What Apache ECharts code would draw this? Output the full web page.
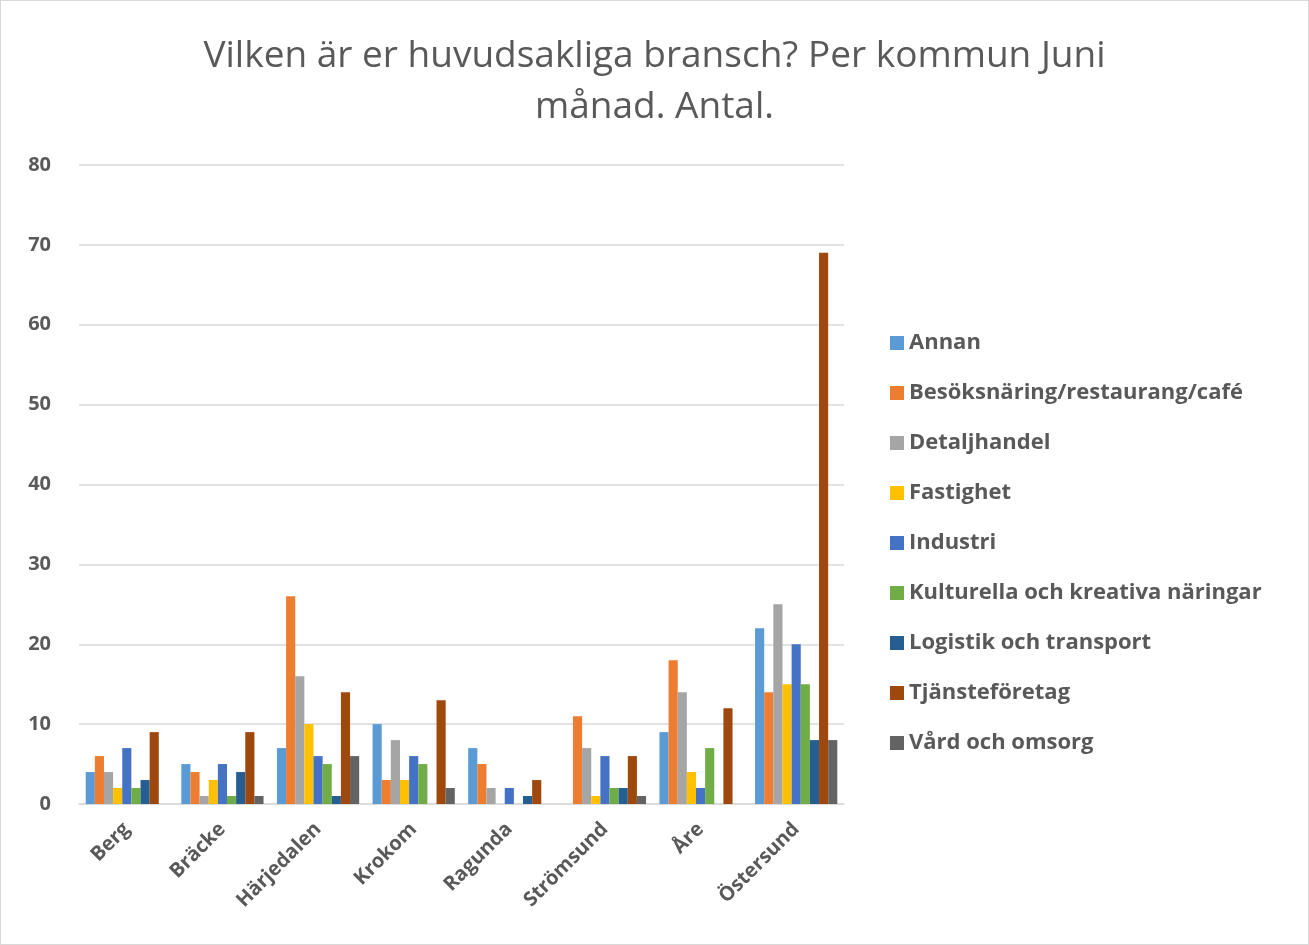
<!DOCTYPE html>
<html>
<head>
    <meta charset="utf-8">
    <title>bransch per kommun</title>
    <style>
        html, body { margin: 0; padding: 0; background: #fff; }
        #main { width: 1309px; height: 945px; box-sizing: border-box; border: 1px solid #d9d9d9; }
    </style>
</head>
<body>
    <div id="main"></div>

    <script src="https://cdn.jsdelivr.net/npm/echarts@6/dist/echarts.min.js"></script>
    <script type="text/javascript">
        var kommuner = ['Berg', 'Bräcke', 'Härjedalen', 'Krokom', 'Ragunda', 'Strömsund', 'Åre', 'Östersund'];
        var yTicks = [0, 10, 20, 30, 40, 50, 60, 70, 80];

        var annan      = [4, 5, 7, 10, 7, 0, 9, 22];
        var besok      = [6, 4, 26, 3, 5, 11, 18, 14];
        var detalj     = [4, 1, 16, 8, 2, 7, 14, 25];
        var fastighet  = [2, 3, 10, 3, 0, 1, 4, 15];
        var industri   = [7, 5, 6, 6, 2, 6, 2, 20];
        var kultur     = [2, 1, 5, 5, 0, 2, 7, 15];
        var logistik   = [3, 4, 1, 0, 1, 2, 0, 8];
        var tjanste    = [9, 9, 14, 13, 3, 6, 12, 69];
        var vard       = [0, 1, 6, 2, 0, 1, 0, 8];

        var names = ['Annan', 'Besöksnäring/restaurang/café', 'Detaljhandel', 'Fastighet', 'Industri',
                     'Kulturella och kreativa näringar', 'Logistik och transport', 'Tjänsteföretag', 'Vård och omsorg'];
        var values = [annan, besok, detalj, fastighet, industri, kultur, logistik, tjanste, vard];
        var colors = ['#5B9BD5', '#ED7D31', '#A5A5A5', '#FFC000', '#4472C4', '#70AD47', '#255E91', '#9E480E', '#636363'];

        var font = '"Open Sans", "Noto Sans", sans-serif';

        var series = [];
        for (var i = 0; i < names.length; i++) {
            series.push({
                name: names[i],
                type: 'bar',
                data: values[i],
                barGap: '0%',
                barCategoryGap: '14%',
                itemStyle: { color: colors[i] }
            });
        }

        var myChart = echarts.init(document.getElementById('main'));
        var option = {
            color: colors,
            title: {
                text: 'Vilken är er huvudsakliga bransch? Per kommun Juni\nmånad. Antal.',
                left: 'center',
                top: 25,
                textStyle: {
                    fontFamily: font,
                    fontSize: 37,
                    fontWeight: 'normal',
                    color: '#595959',
                    lineHeight: 51
                }
            },
            legend: {
                orient: 'vertical',
                left: 884,
                top: 326,
                itemWidth: 14,
                itemHeight: 14,
                itemGap: 28,
                icon: 'rect',
                data: names,
                textStyle: {
                    fontFamily: font,
                    fontSize: 22,
                    fontWeight: 'bold',
                    color: '#595959'
                }
            },
            grid: {
                left: 78,
                right: 464,
                top: 164,
                bottom: 140
            },
            xAxis: {
                type: 'category',
                data: kommuner,
                axisTick: { show: false },
                axisLine: { lineStyle: { color: '#d9d9d9', width: 1.5 } },
                axisLabel: {
                    rotate: 45,
                    margin: 22,
                    fontFamily: font,
                    fontSize: 20,
                    fontWeight: 'bold',
                    color: '#595959'
                }
            },
            yAxis: {
                type: 'value',
                min: yTicks[0],
                max: yTicks[yTicks.length - 1],
                interval: 10,
                axisLine: { show: false },
                axisTick: { show: false },
                splitLine: { lineStyle: { color: '#d9d9d9', width: 1.5 } },
                axisLabel: {
                    margin: 28,
                    fontFamily: font,
                    fontSize: 20,
                    fontWeight: 'bold',
                    color: '#595959'
                }
            },
            series: series
        };
        myChart.setOption(option);
    </script>
</body>
</html>
